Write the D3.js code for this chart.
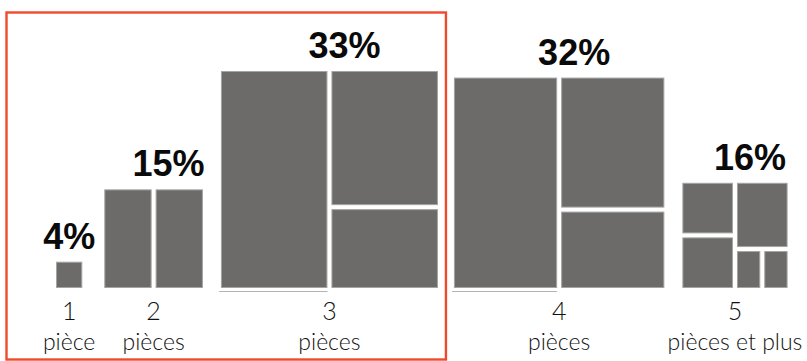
<!DOCTYPE html>
<html>
<head>
<meta charset="utf-8">
<script src="https://cdn.jsdelivr.net/npm/d3@7"></script>
<style>
  html, body { margin: 0; padding: 0; background: #fff; }
  svg { display: block; }
</style>
</head>
<body>
<svg id="chart" width="807" height="361"></svg>
<script>
// Share of dwellings by number of rooms
const categories = ["1", "2", "3", "4", "5"];
const categoryWords = ["pièce", "pièces", "pièces", "pièces", "pièces et plus"];
const shares = [4, 15, 33, 32, 16];
const shareLabels = ["4%", "15%", "33%", "32%", "16%"];

const W = 807, H = 361;
const svg = d3.select("#chart");

const fill = "#6c6b69";
const edge = "#a4a4a2";
const frameColor = "#ef4a2c";

// side of each group's square grows with its share
const side = d3.scaleLinear().domain([0, 33]).range([0, 217]);
const baseY = 288;
const startX = 56;
const gaps = [22, 18, 16, 18];

// horizontal layout: squares placed one after another
let cursor = startX;
const groups = shares.map((v, i) => {
  const s = side(v);
  const g = { i, value: v, size: s, x: cursor, y: baseY - s };
  cursor += s + (gaps[i] || 0);
  return g;
});

// how each square is cut into rooms
function pieceTree(n) {
  if (n === 1) return { value: 1 };
  if (n === 2) return { children: [{ value: 1 }, { value: 1 }] };
  if (n === 3 || n === 4) {
    return { children: [{ value: 8, base: true }, { children: [{ value: 5 }, { value: 3 }] }] };
  }
  return {
    children: [
      { children: [{ value: 4 }, { value: 4 }] },
      { children: [{ value: 5 }, { children: [{ value: 1.5 }, { value: 1.5 }] }] }
    ]
  };
}

// frame around the three first groups
const frameRight = (groups[2].x + groups[2].size + groups[3].x) / 2;
svg.append("rect")
  .attr("x", 6.5).attr("y", 12.5)
  .attr("width", frameRight - 6.5).attr("height", 347)
  .attr("fill", "none")
  .attr("stroke", frameColor)
  .attr("stroke-width", 2.4);

groups.forEach(g => {
  const root = d3.hierarchy(pieceTree(g.i + 1)).sum(d => d.children ? 0 : d.value);
  d3.treemap()
    .tile(d3.treemapSliceDice)
    .size([g.size, g.size])
    .paddingInner(4)(root);

  const layer = svg.append("g").attr("transform", `translate(${g.x},${g.y})`);

  layer.selectAll("rect")
    .data(root.leaves())
    .join("rect")
    .attr("x", d => d.x0 + 0.5)
    .attr("y", d => d.y0 + 0.5)
    .attr("width", d => Math.max(0, d.x1 - d.x0 - 1))
    .attr("height", d => Math.max(0, d.y1 - d.y0 - 1))
    .attr("fill", fill)
    .attr("stroke", edge)
    .attr("stroke-width", 1);

  // thin rule under the tall left room
  layer.selectAll("line.base")
    .data(root.leaves().filter(d => d.data.base))
    .join("line")
    .attr("class", "base")
    .attr("x1", d => d.x0 - 2)
    .attr("x2", d => d.x1)
    .attr("y1", d => d.y1 + 3.5)
    .attr("y2", d => d.y1 + 3.5)
    .attr("stroke", "#b4b4b4")
    .attr("stroke-width", 1);

  const cx = g.x + g.size / 2;
  const dx = g.size > 50 ? 15 : 0;

  svg.append("text")
    .attr("x", cx + dx)
    .attr("y", g.y - 13)
    .attr("text-anchor", "middle")
    .attr("font-family", "'Liberation Sans', Arial, sans-serif")
    .attr("font-weight", 700)
    .attr("font-size", 36)
    .attr("fill", "#0a0a0a")
    .text(shareLabels[g.i]);

  svg.append("text")
    .attr("x", cx)
    .attr("y", 320)
    .attr("text-anchor", "middle")
    .attr("font-family", "Lato, 'Open Sans', sans-serif")
    .attr("font-weight", 300)
    .attr("font-size", 25)
    .attr("fill", "#111")
    .text(categories[g.i]);

  svg.append("text")
    .attr("x", cx)
    .attr("y", 350)
    .attr("text-anchor", "middle")
    .attr("font-family", "Lato, 'Open Sans', sans-serif")
    .attr("font-weight", 300)
    .attr("font-size", 23)
    .attr("fill", "#111")
    .text(categoryWords[g.i]);
});
</script>
</body>
</html>
